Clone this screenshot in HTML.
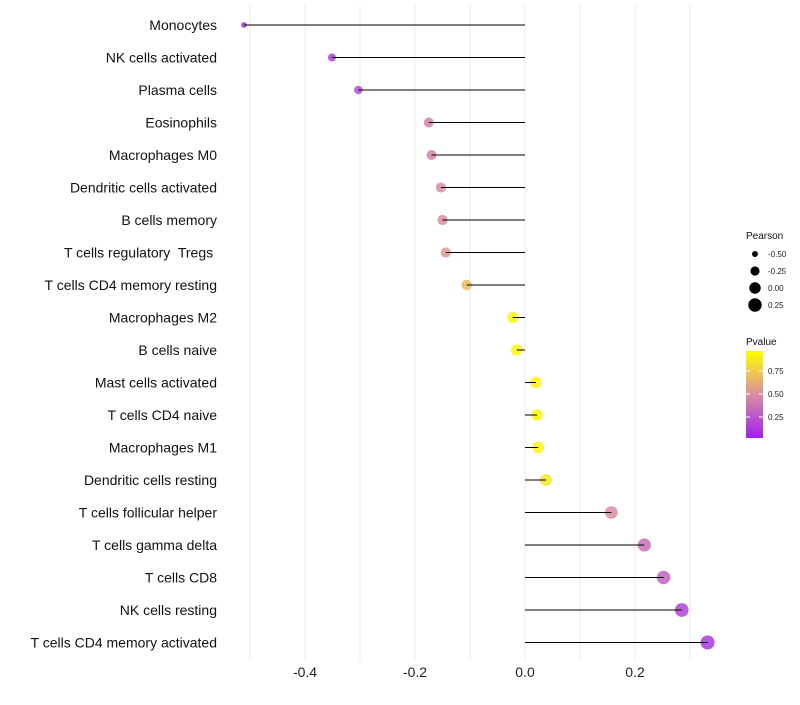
<!DOCTYPE html>
<html><head><meta charset="utf-8"><style>
body{margin:0;background:#fff;font-family:"Liberation Sans",sans-serif}
svg text{font-family:"Liberation Sans",sans-serif;white-space:pre}
</style></head><body>
<svg id="c" width="800" height="700"></svg>
<script>
const categories=["Monocytes","NK cells activated","Plasma cells","Eosinophils","Macrophages M0","Dendritic cells activated","B cells memory","T cells regulatory  Tregs ","T cells CD4 memory resting","Macrophages M2","B cells naive","Mast cells activated","T cells CD4 naive","Macrophages M1","Dendritic cells resting","T cells follicular helper","T cells gamma delta","T cells CD8","NK cells resting","T cells CD4 memory activated"];
const pearson=[-0.511,-0.351,-0.303,-0.175,-0.170,-0.153,-0.150,-0.144,-0.106,-0.022,-0.015,0.020,0.022,0.024,0.038,0.157,0.217,0.252,0.285,0.332];
const pvalue=[0.08,0.15,0.2,0.45,0.45,0.5,0.5,0.55,0.7,0.95,0.97,0.95,0.95,0.95,0.9,0.5,0.35,0.3,0.15,0.1];
const xTicks=[-0.4,-0.2,0.0,0.2];
const xTickLabels=["-0.4","-0.2","0.0","0.2"];
const gridVals=[-0.5,-0.4,-0.3,-0.2,-0.1,0,0.1,0.2,0.3];
const sizeLegend=[-0.5,-0.25,0,0.25];
const sizeLegendLabels=["-0.50","-0.25","0.00","0.25"];
const colorTicks=[0.25,0.5,0.75];

const NS="http://www.w3.org/2000/svg";
const svg=document.getElementById('c');
function el(t,a,p){const e=document.createElementNS(NS,t);for(const k in a)e.setAttribute(k,a[k]);(p||svg).appendChild(e);return e;}
const xs=v=>525+v*550;
const ys=i=>25+i*32.5;
const rs=p=>Math.sqrt(Math.max(2,6.4+48.3*(p+0.55)));
function col(p){
  const stops=[[0,[160,32,240]],[0.5,[217,142,160]],[1,[255,255,0]]];
  let a=stops[0],b=stops[1];if(p>0.5){a=stops[1];b=stops[2];}
  const t=(p-a[0])/(b[0]-a[0]);
  const c=a[1].map((v,k)=>Math.round(v+(b[1][k]-v)*t));
  return `rgb(${c.join(',')})`;
}
gridVals.forEach(v=>{
  const g=el('line',{x1:xs(v),x2:xs(v),y1:5,y2:660,stroke:'#ebebeb','stroke-width':1});
  
  
});
xTicks.forEach((v,i)=>{
  const t=el('text',{x:xs(v),y:677,'text-anchor':'middle','font-size':14,fill:'#222'});
  t.textContent=xTickLabels[i];
  
  
});
categories.forEach((c,i)=>{
  const t=el('text',{x:217,y:ys(i)+5,'text-anchor':'end','font-size':14,fill:'#111'});
  t.textContent=c;
  
  
  const d=el('circle',{cx:xs(pearson[i]),cy:ys(i),r:rs(pearson[i]),fill:col(pvalue[i]),'fill-opacity':0.85});
  
  
  const l=el('line',{x1:xs(0),x2:xs(pearson[i]),y1:ys(i),y2:ys(i),stroke:'#000','stroke-width':1});
  
  
});
let t=el('text',{x:746,y:239,'font-size':10,fill:'#111'});t.textContent='Pearson';


sizeLegend.forEach((v,i)=>{
  const y=254+i*17;
  const c=el('circle',{cx:755,cy:y,r:rs(v),fill:'#000'});
  
  
  const tx=el('text',{x:768,y:y+3,'font-size':8,fill:'#222'});tx.textContent=sizeLegendLabels[i];
  
  
});
t=el('text',{x:746,y:345,'font-size':10,fill:'#111'});t.textContent='Pvalue';


const defs=el('defs',{});
const lg=el('linearGradient',{id:'g',x1:0,y1:1,x2:0,y2:0},defs);
el('stop',{offset:'0','stop-color':col(0)},lg);
el('stop',{offset:'0.5','stop-color':col(0.5)},lg);
el('stop',{offset:'1','stop-color':col(1)},lg);
const bar=el('rect',{x:746,y:351,width:17,height:87,fill:'url(#g)'});


const cy=v=>440-v*92;
colorTicks.forEach(v=>{
  el('line',{x1:746,x2:750,y1:cy(v),y2:cy(v),stroke:'#fff','stroke-width':1});
  el('line',{x1:759,x2:763,y1:cy(v),y2:cy(v),stroke:'#fff','stroke-width':1});
  const tx=el('text',{x:768,y:cy(v)+3,'font-size':8,fill:'#222'});tx.textContent=v.toFixed(2);
  
  
});
</script>
</body></html>
